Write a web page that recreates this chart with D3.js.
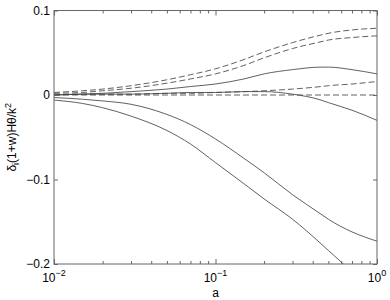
<!DOCTYPE html>
<html>
<head>
<meta charset="utf-8">
<script src="https://cdn.jsdelivr.net/npm/d3@7"></script>
<style>
  body { margin: 0; background: #fff; }
  text { font-family: "Liberation Sans", Helvetica, Arial, sans-serif; fill: #000; }
</style>
</head>
<body>
<svg id="drawing_region"></svg>
<script>
// scale factor a
const aValues = [0.01, 0.015, 0.02, 0.03, 0.05, 0.07, 0.1, 0.15, 0.2, 0.3, 0.45, 0.5, 0.7, 1];

// solid curves
const solidA = [0.000, 0.001, 0.002, 0.004, 0.007, 0.010, 0.013, 0.019, 0.025, 0.030, 0.033, 0.033, 0.030, 0.025];
const solidB = [0.000, 0.001, 0.001, 0.001, 0.002, 0.003, 0.003, 0.004, 0.004, 0.001, -0.006, -0.009, -0.018, -0.030];
const solidC = [-0.003, -0.005, -0.007, -0.011, -0.023, -0.035, -0.052, -0.075, -0.092, -0.118, -0.141, -0.147, -0.162, -0.173];
const solidD = [-0.006, -0.010, -0.015, -0.025, -0.042, -0.058, -0.080, -0.105, -0.123, -0.147, -0.176, -0.184, -0.210, -0.245];

// dashed curves
const dashedA = [0.003, 0.005, 0.007, 0.011, 0.018, 0.024, 0.031, 0.042, 0.051, 0.062, 0.071, 0.073, 0.077, 0.079];
const dashedB = [0.002, 0.003, 0.005, 0.008, 0.014, 0.019, 0.025, 0.035, 0.044, 0.055, 0.063, 0.065, 0.068, 0.070];
const dashedC = [0.000, 0.001, 0.001, 0.001, 0.002, 0.002, 0.003, 0.004, 0.005, 0.007, 0.010, 0.011, 0.013, 0.016];
const dashedD = [0, 0, 0, 0, 0, 0, 0, 0, 0, 0, 0, 0, 0, 0];

const xMajor = [0.01, 0.1, 1];
const xMajorExp = ["\u22122", "\u22121", "0"];
const xMinor = [0.02, 0.03, 0.04, 0.05, 0.06, 0.07, 0.08, 0.09, 0.2, 0.3, 0.4, 0.5, 0.6, 0.7, 0.8, 0.9];
const yTicks = [0.1, 0, -0.1, -0.2];
const yTickLabels = ["0.1", "0", "\u22120.1", "\u22120.2"];

const width = 390, height = 300;
const margin = { left: 54, right: 13, top: 10.5, bottom: 36 };
const innerW = width - margin.left - margin.right;
const innerH = height - margin.top - margin.bottom;

const svg = d3.select('#drawing_region')
    .attr('width', width)
    .attr('height', height);

const chart = svg.append('g')
    .attr('transform', `translate(${margin.left}, ${margin.top})`);

const xscale = d3.scaleLog()
    .domain([0.01, 1])
    .range([0, innerW]);

const yscale = d3.scaleLinear()
    .domain([-0.2, 0.1])
    .range([innerH, 0]);

chart.append('clipPath')
    .attr('id', 'clip')
    .append('rect')
    .attr('width', innerW)
    .attr('height', innerH);

const line = d3.line()
    .x((d, i) => xscale(aValues[i]))
    .y(d => yscale(d))
    .curve(d3.curveMonotoneX);

const series = [
    { values: solidA, dash: null },
    { values: solidB, dash: null },
    { values: solidC, dash: null },
    { values: solidD, dash: null },
    { values: dashedA, dash: '6,3' },
    { values: dashedB, dash: '6,3' },
    { values: dashedC, dash: '6,3' },
    { values: dashedD, dash: '6,3' },
];

chart.append('g')
    .attr('clip-path', 'url(#clip)')
    .selectAll('path')
    .data(series)
    .join('path')
    .attr('d', d => line(d.values))
    .attr('fill', 'none')
    .attr('stroke', '#444')
    .attr('stroke-width', 0.85)
    .attr('stroke-dasharray', d => d.dash);

// axes: ticks point inward, on all four sides
const axisColor = '#666';
function styleAxis(g) {
    g.select('.domain').remove();
    g.selectAll('.tick line').attr('stroke', axisColor);
    g.selectAll('.tick text').remove();
}

chart.append('g')
    .attr('transform', `translate(0, ${innerH})`)
    .call(d3.axisBottom(xscale).tickValues(xMajor).tickSize(-5))
    .call(styleAxis);
chart.append('g')
    .attr('transform', `translate(0, ${innerH})`)
    .call(d3.axisBottom(xscale).tickValues(xMinor).tickSize(-3))
    .call(styleAxis);
chart.append('g')
    .call(d3.axisTop(xscale).tickValues(xMajor).tickSize(-5))
    .call(styleAxis);
chart.append('g')
    .call(d3.axisTop(xscale).tickValues(xMinor).tickSize(-3))
    .call(styleAxis);
chart.append('g')
    .call(d3.axisLeft(yscale).tickValues(yTicks).tickSize(-4))
    .call(styleAxis);
chart.append('g')
    .attr('transform', `translate(${innerW}, 0)`)
    .call(d3.axisRight(yscale).tickValues(yTicks).tickSize(-4))
    .call(styleAxis);

chart.append('rect')
    .attr('width', innerW)
    .attr('height', innerH)
    .attr('fill', 'none')
    .attr('stroke', axisColor)
    .attr('stroke-width', 1);

// y tick labels
chart.selectAll('.ylab')
    .data(yTicks)
    .join('text')
    .attr('class', 'ylab')
    .attr('x', -4)
    .attr('y', d => yscale(d))
    .attr('dy', '0.35em')
    .attr('text-anchor', 'end')
    .style('font-size', '12px')
    .text((d, i) => yTickLabels[i]);

// x tick labels with exponent
const xlab = chart.selectAll('.xlab')
    .data(xMajor)
    .join('text')
    .attr('class', 'xlab')
    .attr('x', d => xscale(d))
    .attr('y', innerH + 18)
    .attr('text-anchor', 'middle')
    .style('font-size', '12px');
xlab.append('tspan').text('10');
xlab.append('tspan')
    .attr('dy', -6)
    .style('font-size', '9px')
    .text((d, i) => xMajorExp[i]);

// axis titles
chart.append('text')
    .attr('x', innerW / 2)
    .attr('y', innerH + 32.5)
    .attr('text-anchor', 'middle')
    .style('font-size', '12px')
    .text('a');

const ylabel = chart.append('text')
    .attr('transform', `translate(${-38}, ${innerH / 2}) rotate(-90)`)
    .attr('text-anchor', 'middle')
    .style('font-size', '12px');
ylabel.append('tspan').text('\u03b4');
ylabel.append('tspan').attr('dy', 3).style('font-size', '9px').text('i');
ylabel.append('tspan').attr('dy', -3).text('(1+w)H\u03b8/k');
ylabel.append('tspan').attr('dy', -5).style('font-size', '9px').text('2');
</script>
</body>
</html>
